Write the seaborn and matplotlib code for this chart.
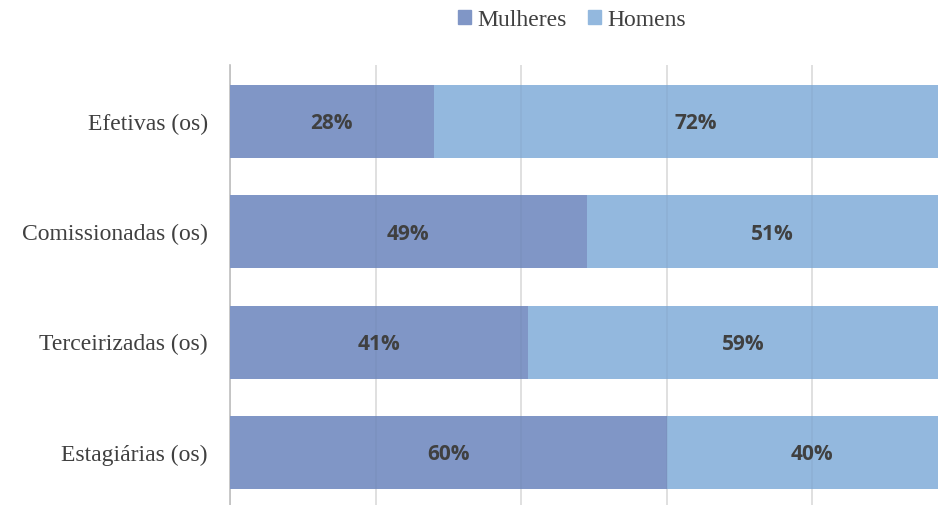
import matplotlib
matplotlib.use('Agg')
import matplotlib.pyplot as plt
import seaborn as sns
import pandas as pd
from matplotlib.patches import Patch

# === DATA ===
categories = ["Efetivas (os)", "Comissionadas (os)", "Terceirizadas (os)", "Estagiárias (os)"]
mulheres = [28, 49, 41, 60]
homens = [72, 51, 59, 40]

COLOR_M = "#8096C6"
COLOR_H = "#93B8DE"

df = pd.DataFrame({"categoria": categories, "Mulheres": mulheres, "Homens": homens})
df["total"] = df["Mulheres"] + df["Homens"]

sns.set_theme(style="white")
plt.rcParams['font.family'] = ['Liberation Serif', 'DejaVu Serif']

fig = plt.figure(figsize=(9.38, 5.05), dpi=100)
ax = fig.add_axes([230 / 938, -4 / 505, 728 / 938, 444 / 505])

# Stacked bars: full length in Homens colour, Mulheres drawn over it
sns.barplot(data=df, y="categoria", x="total", color=COLOR_H, width=0.66,
            orient="h", ax=ax, zorder=2, saturation=1, linewidth=0)
sns.barplot(data=df, y="categoria", x="Mulheres", color=COLOR_M, width=0.66,
            orient="h", ax=ax, zorder=3, saturation=1, linewidth=0)

ax.set_xlim(0, 100)
ax.set_xticks([0, 20, 40, 60, 80, 100])
ax.set_xticklabels([])
ax.xaxis.grid(True, color="#DADADA", linewidth=1.2, zorder=0)
ax.set_axisbelow(True)
ax.set_xlabel("")
ax.set_ylabel("")
for s in ["top", "right", "bottom"]:
    ax.spines[s].set_visible(False)
ax.spines["left"].set_color("#BFBFBF")
ax.spines["left"].set_linewidth(1.2)
ax.tick_params(axis="y", length=0, pad=16, labelsize=17, labelcolor="#404040")
ax.tick_params(axis="x", length=0)

# faint grid showing through the (semi-transparent looking) bars
for i in range(len(categories)):
    ax.vlines([20, 40, 60, 80], i - 0.33, i + 0.33, color="#5A6A8A",
              alpha=0.1, linewidth=1.2, zorder=4)

# Value labels
for i, (m, h) in enumerate(zip(mulheres, homens)):
    ax.text(m / 2, i + 0.02, f"{m}%", ha="center", va="center", fontsize=15,
            fontweight="bold", color="#404040", family=["Open Sans", "DejaVu Sans"], zorder=5)
    ax.text(m + h / 2, i + 0.02, f"{h}%", ha="center", va="center", fontsize=15,
            fontweight="bold", color="#404040", family=["Open Sans", "DejaVu Sans"], zorder=5)

handles = [Patch(color=COLOR_M, label="Mulheres"), Patch(color=COLOR_H, label="Homens")]
fig.legend(handles=handles, loc="center", bbox_to_anchor=(572 / 938, 1 - 20 / 505),
           ncol=2, frameon=False, fontsize=17, handlelength=0.55, handleheight=0.55,
           handletextpad=0.25, columnspacing=0.9, labelcolor="#404040")

fig.savefig("out.png", dpi=100)
